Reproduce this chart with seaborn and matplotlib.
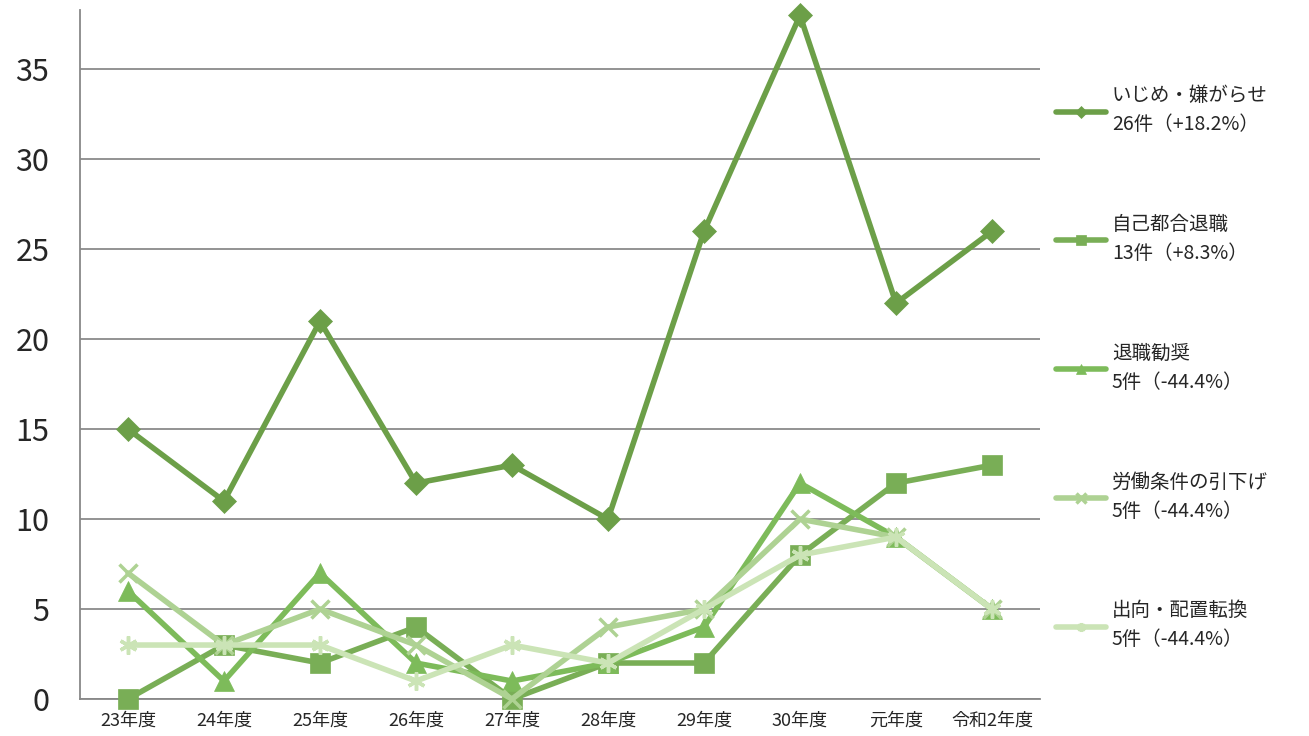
import numpy as np
import pandas as pd
import seaborn as sns
import matplotlib.pyplot as plt
from matplotlib.ticker import FixedLocator

# data
years = ['23年度', '24年度', '25年度', '26年度', '27年度', '28年度', '29年度', '30年度', '元年度', '令和2年度']
ijime = [15, 11, 21, 12, 13, 10, 26, 38, 22, 26]
jiko = [0, 3, 2, 4, 0, 2, 2, 8, 12, 13]
kansho = [6, 1, 7, 2, 1, 2, 4, 12, 9, 5]
roudou = [7, 3, 5, 3, 0, 4, 5, 10, 9, 5]
shukko = [3, 3, 3, 1, 3, 2, 5, 8, 9, 5]

series_names = ['いじめ・嫌がらせ', '自己都合退職', '退職勧奨', '労働条件の引下げ', '出向・配置転換']
series_notes = ['26件（+18.2%）', '13件（+8.3%）', '5件（-44.4%）', '5件（-44.4%）', '5件（-44.4%）']
colors = ['#6c9f48', '#79ae56', '#7dbb5a', '#aed293', '#cbe4b6']
markers = ['D', 's', '^', 'x', (6, 2, 0)]
msizes = [12, 15, 14, 13, 13]

df = pd.DataFrame({
    'x': np.tile(np.arange(len(years)), len(series_names)),
    'value': ijime + jiko + kansho + roudou + shukko,
    'series': np.repeat(series_names, len(years)),
})

sns.set_style('white')
plt.rcParams['font.family'] = ['Noto Sans CJK JP', 'DejaVu Sans']

fig = plt.figure(figsize=(13.09, 7.36), dpi=100)
ax = fig.add_axes([80 / 1309, 1 - 699 / 736, 960 / 1309, 689 / 736])

for i, name in enumerate(series_names):
    sub = df[df['series'] == name]
    sns.lineplot(data=sub, x='x', y='value', ax=ax, color=colors[i], marker=markers[i],
                 markersize=msizes[i], linewidth=4, markeredgewidth=2.5 if i >= 3 else 0.5,
                 markeredgecolor=colors[i], label=name + '\n' + series_notes[i],
                 zorder=3 + i, sort=False, clip_on=False)

ax.set_xlim(-0.5, len(years) - 0.5)
ax.set_ylim(0, 38.3)
ax.set_yticks([0, 5, 10, 15, 20, 25, 30, 35])
ax.set_xticks(range(len(years)))
ax.set_xticklabels(years, fontsize=13)
ax.xaxis.set_minor_locator(FixedLocator(np.arange(-0.5, len(years), 1)))
ax.tick_params(axis='x', which='major', length=0, pad=9)
ax.tick_params(axis='x', which='minor', length=8, width=1.2, color='#888888', direction='out')
ax.tick_params(axis='y', length=10, width=1.2, color='#888888', direction='out', labelsize=22, pad=12)
ax.set_xlabel('')
ax.set_ylabel('')

ax.grid(axis='y', color='#8a8a8a', linewidth=1.3)
ax.set_axisbelow(True)
for s in ['top', 'right']:
    ax.spines[s].set_visible(False)
for s in ['left', 'bottom']:
    ax.spines[s].set_color('#888888')
    ax.spines[s].set_linewidth(1.3)

leg = ax.legend(loc='upper left', bbox_to_anchor=(0.998, 0.916), frameon=False,
                fontsize=14, labelspacing=4.05, handlelength=2.6, handletextpad=0.3,
                markerscale=0.5)
for h in leg.legend_handles:
    h.set_linewidth(4)
for t in leg.get_texts():
    t.set_linespacing(1.5)

fig.savefig('out.png', dpi=100)
